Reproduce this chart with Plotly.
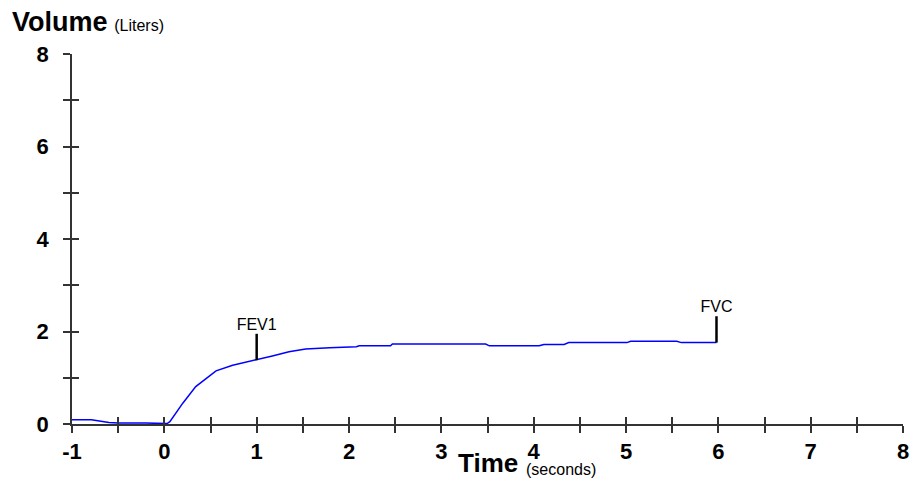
import plotly.graph_objects as go

# Spirometry volume-time curve
time_s = [-1.0, -0.79, -0.6, -0.5, -0.2, 0.0, 0.03, 0.06, 0.2, 0.34, 0.49, 0.56, 0.74, 0.99,
          1.17, 1.35, 1.53, 1.79, 2.0, 2.08, 2.11, 2.45, 2.47, 3.48, 3.52, 4.06, 4.11, 4.33,
          4.38, 5.01, 5.05, 5.55, 5.6, 5.98]
volume_l = [0.09, 0.09, 0.03, 0.02, 0.02, 0.02, 0.01, 0.05, 0.45, 0.81, 1.05, 1.15, 1.27, 1.38,
            1.47, 1.56, 1.62, 1.65, 1.67, 1.67, 1.69, 1.69, 1.73, 1.73, 1.69, 1.69, 1.72, 1.72,
            1.76, 1.76, 1.79, 1.79, 1.76, 1.76]

marker_names = ["FEV1", "FVC"]
marker_x = [1.0, 5.98]
marker_base = [1.38, 1.76]
marker_height = 0.57

x_ticks = [i * 0.5 for i in range(-2, 17)]
x_labels = [str(int(v)) if v == int(v) else "" for v in x_ticks]
y_ticks = list(range(0, 9))
y_labels = [str(v) if v % 2 == 0 else "" for v in y_ticks]

FONT = "Liberation Sans, Arial, sans-serif"
AXC = "#333333"

fig = go.Figure()
fig.add_trace(go.Scatter(x=time_s, y=volume_l, mode="lines",
                         line=dict(color="#0000ff", width=1.5), hoverinfo="skip"))
for name, mx, mb in zip(marker_names, marker_x, marker_base):
    fig.add_trace(go.Scatter(x=[mx, mx], y=[mb, mb + marker_height], mode="lines",
                             line=dict(color="black", width=2.5), hoverinfo="skip"))
    fig.add_trace(go.Scatter(x=[mx], y=[mb + marker_height], mode="text", text=[name],
                             textposition="top center", cliponaxis=False,
                             textfont=dict(family=FONT, size=16, color="black"),
                             hoverinfo="skip"))
# empty trace to instantiate overlay axes (for crossing ticks)
fig.add_trace(go.Scatter(x=[None], y=[None], xaxis="x2", yaxis="y2", hoverinfo="skip"))

tickfont = dict(family=FONT, size=22, color="black", weight="bold")
fig.update_layout(
    width=913, height=473,
    margin=dict(l=64, r=18, t=46, b=57),
    plot_bgcolor="white", paper_bgcolor="white",
    showlegend=False,
    xaxis=dict(range=[-1, 8], tickvals=x_ticks, ticktext=x_labels, ticks="outside",
               ticklen=7, tickwidth=1.5, tickcolor=AXC, showline=True, linecolor=AXC,
               linewidth=1.5, showgrid=False, zeroline=False, tickfont=tickfont,
               ticklabelstandoff=0),
    yaxis=dict(range=[0, 8], tickvals=y_ticks, ticktext=y_labels, ticks="outside",
               ticklen=7, tickwidth=1.5, tickcolor=AXC, showline=True, linecolor=AXC,
               linewidth=1.5, showgrid=False, zeroline=False, tickfont=tickfont,
               ticklabelstandoff=10),
    xaxis2=dict(range=[-1, 8], tickvals=x_ticks, ticks="inside", ticklen=7, tickwidth=1.5,
                tickcolor=AXC, showticklabels=False, showline=False, showgrid=False,
                zeroline=False, overlaying="x", side="bottom"),
    yaxis2=dict(range=[0, 8], tickvals=y_ticks, ticks="inside", ticklen=7, tickwidth=1.5,
                tickcolor=AXC, showticklabels=False, showline=False, showgrid=False,
                zeroline=False, overlaying="y", side="left"),
)

fig.add_annotation(xref="paper", yref="paper", x=-62/831, y=1 + 32/370, xanchor="left",
                   yanchor="middle", showarrow=False,
                   text="<b><span style='font-size:27px'>Volume</span></b>&nbsp; "
                        "<span style='font-size:16px'>(Liters)</span>",
                   font=dict(family=FONT, color="black"))
fig.add_annotation(xref="paper", yref="paper", x=(520 - 72) / 831, y=-56/370, xanchor="right",
                   yanchor="bottom", showarrow=False, text="<b>Time</b>",
                   font=dict(family=FONT, size=26, color="black"))
fig.add_annotation(xref="paper", yref="paper", x=(524 - 72) / 831, y=-56/370, xanchor="left",
                   yanchor="bottom", showarrow=False, text="(seconds)",
                   font=dict(family=FONT, size=16, color="black"))

fig.write_html("out.html")
